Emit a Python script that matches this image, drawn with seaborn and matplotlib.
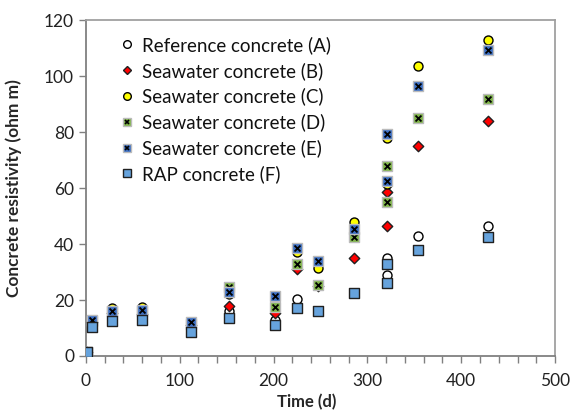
import matplotlib
matplotlib.use("Agg")
import matplotlib.pyplot as plt
import seaborn as sns
import pandas as pd
from matplotlib.lines import Line2D
from matplotlib.legend_handler import HandlerTuple
from matplotlib.ticker import MultipleLocator

time_d = [1, 7, 28, 60, 112, 153, 202, 225, 247, 286, 321, 321, 354, 429]
series_names = ["Reference concrete (A)", "Seawater concrete (B)", "Seawater concrete (C)",
                "Seawater concrete (D)", "Seawater concrete (E)", "RAP concrete (F)"]
res_A = [1.5, 12.0, 15.0, 14.0, 11.0, 16.0, 13.0, 20.5, 16.0, 22.5, 35.0, 29.0, 43.0, 46.5]
res_B = [1.5, 12.0, 15.5, 15.0, 11.0, 18.0, 15.5, 31.0, 25.0, 35.0, 58.5, 46.5, 75.0, 84.0]
res_C = [1.5, 12.5, 17.0, 17.5, 11.5, 22.0, 19.5, 37.0, 31.5, 48.0, 78.0, 61.5, 103.5, 113.0]
res_D = [1.5, 12.5, 16.0, 16.0, 11.5, 24.5, 17.5, 33.0, 25.5, 42.5, 68.0, 55.0, 85.0, 92.0]
res_E = [1.5, 13.0, 16.0, 16.5, 12.0, 23.0, 21.5, 38.5, 34.0, 45.5, 79.5, 62.5, 96.5, 109.5]
res_F = [1.5, 10.5, 12.5, 13.0, 8.5, 13.5, 11.0, 17.0, 16.0, 22.5, 33.0, 26.0, 38.0, 42.5]
x_ticks = [0, 100, 200, 300, 400, 500]
y_ticks = [0, 20, 40, 60, 80, 100, 120]

all_res = [res_A, res_B, res_C, res_D, res_E, res_F]
df = pd.DataFrame({
    "Time (d)": time_d * 6,
    "res": sum(all_res, []),
    "series": [n for n in series_names for _ in time_d],
})

sns.set_theme(style="white")
plt.rcParams["font.family"] = ["Lato", "DejaVu Sans"]

styles = {
    series_names[0]: dict(marker="o", fc="white", ec="black", s=42, over=None),
    series_names[1]: dict(marker="D", fc="#ff0000", ec="#202020", s=28, over=None),
    series_names[2]: dict(marker="o", fc="#ffff00", ec="black", s=42, over=None),
    series_names[3]: dict(marker="s", fc="#7fb548", ec="#bbbbbb", s=42, over="x"),
    series_names[4]: dict(marker="s", fc="#3b6fc4", ec="#bbbbbb", s=42, over="x"),
    series_names[5]: dict(marker="s", fc="#66a3dd", ec="#202020", s=42, over=None),
}

fig = plt.figure(figsize=(5.8, 4.12), dpi=100)
ax = fig.add_axes([0.148, 0.136, 0.809, 0.815])

handles = []
for name in series_names:
    st = styles[name]
    sub = df[df["series"] == name]
    sns.scatterplot(data=sub, x="Time (d)", y="res", ax=ax, marker=st["marker"],
                    color=st["fc"], edgecolor=st["ec"], linewidth=1.0, s=st["s"],
                    legend=False, zorder=3)
    h = [Line2D([], [], ls="none", marker=st["marker"], mfc=st["fc"], mec=st["ec"],
                mew=1.0, ms=5.5 if st["marker"] != "D" else 4.5)]
    if st["over"]:
        sns.scatterplot(data=sub, x="Time (d)", y="res", ax=ax, marker="x",
                        color="black", linewidth=1.3, s=18, legend=False, zorder=3)
        h.append(Line2D([], [], ls="none", marker="x", mec="black", mew=1.2, ms=3.5))
    handles.append(tuple(h))

ax.set_xlim(0, 500)
ax.set_ylim(0, 120)
ax.set_xticks(x_ticks)
ax.set_yticks(y_ticks)
ax.xaxis.set_minor_locator(MultipleLocator(20))
ax.tick_params(axis="both", which="both", direction="out", length=5, width=1,
               color="#808080", labelsize=12.5, labelcolor="#222222")
ax.tick_params(axis="x", which="both", bottom=True)
ax.tick_params(axis="y", left=True)
ax.tick_params(axis="x", which="major", pad=7)

for side in ["left", "bottom"]:
    ax.spines[side].set_color("#808080")
    ax.spines[side].set_linewidth(1.3)
for side in ["top", "right"]:
    ax.spines[side].set_color("#a0a0a0")
    ax.spines[side].set_linewidth(1.3)

ax.set_xlabel("Time (d)", fontsize=12, fontweight="bold")
ax.set_ylabel("Concrete resistivity (ohm m)", fontsize=12.5, fontweight="bold")
ax.xaxis.set_label_coords(0.47, -0.112)
ax.yaxis.set_label_coords(-0.137, 0.5)

leg = ax.legend(handles, series_names, handler_map={tuple: HandlerTuple(ndivide=1)},
                loc="upper left", bbox_to_anchor=(0.06, 0.975), frameon=False,
                fontsize=13.5, handlelength=0.6, handletextpad=0.5, labelspacing=0.42,
                borderaxespad=0)
for t in leg.get_texts():
    t.set_color("#111111")

fig.savefig("out.png", dpi=100)
